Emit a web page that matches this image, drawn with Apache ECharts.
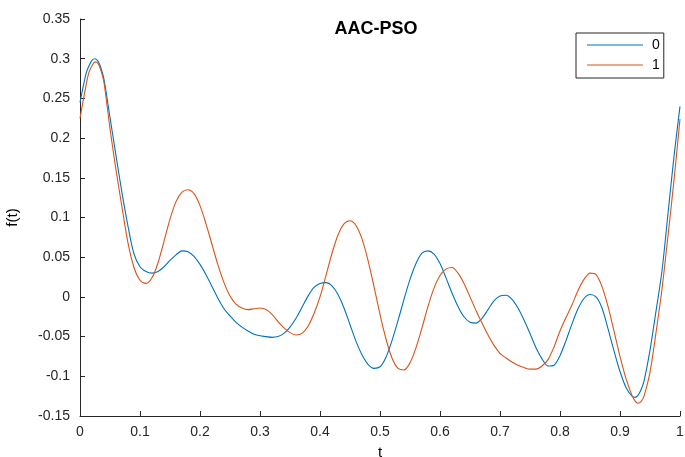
<!DOCTYPE html>
<html>
<head>
<meta charset="utf-8">
<script src="https://cdn.jsdelivr.net/npm/echarts@6/dist/echarts.min.js"></script>
<style>
  html, body { margin: 0; padding: 0; background: #fff; }
  #chart { width: 685px; height: 457px; }
</style>
</head>
<body>
<div id="chart"></div>
<script>
// Sample positions along t (0 to 1, step 0.01)
const tValues = [];
for (let i = 0; i <= 100; i++) tValues.push(i / 100);

// f(t) for run "0"
const series0 = [
  0.245, 0.281, 0.298, 0.297, 0.274, 0.226, 0.178, 0.131, 0.089, 0.054,
  0.038, 0.032, 0.030, 0.032, 0.038, 0.046, 0.053, 0.058, 0.057, 0.051,
  0.041, 0.028, 0.013, -0.002, -0.015, -0.024, -0.032, -0.038, -0.043, -0.047,
  -0.049, -0.050, -0.051, -0.050, -0.046, -0.038, -0.027, -0.013, 0.001, 0.012,
  0.017, 0.018, 0.014, 0.003, -0.014, -0.035, -0.056, -0.073, -0.085, -0.090,
  -0.088, -0.076, -0.055, -0.030, -0.003, 0.022, 0.042, 0.055, 0.058, 0.054,
  0.042, 0.024, 0.005, -0.012, -0.025, -0.032, -0.033, -0.027, -0.016, -0.005,
  0.001, 0.002, -0.003, -0.014, -0.029, -0.046, -0.064, -0.078, -0.087, -0.086,
  -0.074, -0.055, -0.034, -0.015, -0.002, 0.003, 0.000, -0.014, -0.040, -0.068,
  -0.094, -0.114, -0.125, -0.124, -0.106, -0.067, -0.018, 0.033, 0.105, 0.177,
  0.240
];

// f(t) for run "1"
const series1 = [
  0.225, 0.266, 0.291, 0.294, 0.270, 0.212, 0.160, 0.113, 0.068, 0.037,
  0.021, 0.017, 0.024, 0.043, 0.070, 0.098, 0.120, 0.132, 0.135, 0.130,
  0.115, 0.092, 0.066, 0.040, 0.018, 0.001, -0.009, -0.014, -0.016, -0.015,
  -0.014, -0.016, -0.022, -0.031, -0.039, -0.045, -0.048, -0.046, -0.037, -0.021,
  0.000, 0.027, 0.055, 0.078, 0.092, 0.096, 0.090, 0.073, 0.046, 0.013,
  -0.022, -0.053, -0.077, -0.090, -0.092, -0.083, -0.064, -0.039, -0.012, 0.011,
  0.027, 0.035, 0.037, 0.030, 0.017, 0.000, -0.017, -0.033, -0.048, -0.061,
  -0.071, -0.077, -0.082, -0.086, -0.089, -0.091, -0.091, -0.087, -0.079, -0.063,
  -0.043, -0.026, -0.010, 0.008, 0.022, 0.030, 0.028, 0.013, -0.012, -0.043,
  -0.075, -0.103, -0.124, -0.134, -0.125, -0.095, -0.045, 0.010, 0.077, 0.147,
  0.224
];

// Extra readings around the sharp first peak and the deep final dip
const fineT = [0.015, 0.025, 0.035, 0.925, 0.935];
const fine0 = [0.291, 0.300, 0.288, -0.1265, -0.117];
const fine1 = [0.283, 0.296, 0.285, -0.131, -0.132];

const seriesNames = ['0', '1'];
const seriesColors = ['#0072BD', '#D95319'];

const axisColor = '#262626';
const fontFamily = '"Liberation Sans", Arial, Helvetica, sans-serif';

// Merge the regular samples with the extra readings, ordered by t
function pairs(ys, extraYs) {
  const pts = tValues.map((t, i) => [t, ys[i]]);
  fineT.forEach((t, i) => pts.push([t, extraYs[i]]));
  pts.sort((a, b) => a[0] - b[0]);
  return pts;
}

function trimNum(v) {
  return String(parseFloat(v.toFixed(2)));
}

const chart = echarts.init(document.getElementById('chart'), null, { renderer: 'canvas' });

chart.setOption({
  backgroundColor: '#ffffff',
  animation: false,
  textStyle: { fontFamily: fontFamily },
  title: {
    text: 'AAC-PSO',
    left: 376,
    top: 20,
    textAlign: 'center',
    padding: 0,
    textStyle: { fontSize: 18, fontWeight: 'bold', color: '#000', fontFamily: fontFamily }
  },
  legend: {
    orient: 'vertical',
    left: 576,
    top: 33,
    padding: [5, 4, 6, 11],
    itemGap: 6,
    itemWidth: 56,
    itemHeight: 1,
    icon: 'rect',
    borderColor: axisColor,
    borderWidth: 1,
    borderRadius: 0,
    backgroundColor: '#fff',
    textStyle: { fontSize: 14, lineHeight: 14, color: '#000', padding: [0, 0, 0, 4], fontFamily: fontFamily },
    data: seriesNames
  },
  grid: { left: 80, right: 5, top: 19, bottom: 41, containLabel: false, outerBoundsMode: 'none' },
  xAxis: {
    type: 'value',
    min: 0,
    max: 1,
    interval: 0.1,
    name: 't',
    nameLocation: 'middle',
    nameGap: 29,
    nameTextStyle: { fontSize: 15, color: '#000', fontFamily: fontFamily },
    axisLine: { show: true, onZero: false, lineStyle: { color: axisColor, width: 1 } },
    axisTick: { show: true, inside: true, length: 5, lineStyle: { color: axisColor } },
    axisLabel: { color: axisColor, fontSize: 14, margin: 9, formatter: trimNum, fontFamily: fontFamily },
    splitLine: { show: false }
  },
  yAxis: {
    type: 'value',
    min: -0.15,
    max: 0.35,
    interval: 0.05,
    name: 'f(t)',
    nameLocation: 'middle',
    nameGap: 60,
    nameRotate: 90,
    nameTextStyle: { fontSize: 15, color: '#000', fontFamily: fontFamily },
    axisLine: { show: true, onZero: false, lineStyle: { color: axisColor, width: 1 } },
    axisTick: { show: true, inside: true, length: 5, lineStyle: { color: axisColor } },
    axisLabel: { color: axisColor, fontSize: 14, margin: 10, formatter: trimNum, fontFamily: fontFamily },
    splitLine: { show: false }
  },
  series: [
    {
      name: seriesNames[0],
      type: 'line',
      data: pairs(series0, fine0),
      smooth: 0.3,
      symbol: 'none',
      color: seriesColors[0],
      lineStyle: { color: seriesColors[0], width: 1.1 }
    },
    {
      name: seriesNames[1],
      type: 'line',
      data: pairs(series1, fine1),
      smooth: 0.3,
      symbol: 'none',
      color: seriesColors[1],
      lineStyle: { color: seriesColors[1], width: 1.1 }
    }
  ]
});
</script>
</body>
</html>
